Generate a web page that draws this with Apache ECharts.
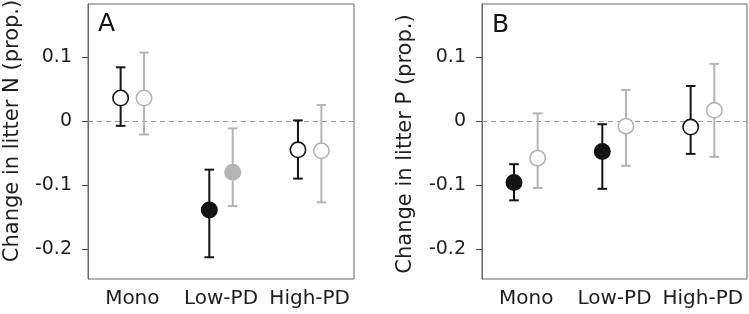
<!DOCTYPE html>
<html>
<head>
<meta charset="utf-8">
<script src="https://cdn.jsdelivr.net/npm/echarts@6/dist/echarts.min.js"></script>
<style>
html,body{margin:0;padding:0;background:#fff;}
#chart{width:749px;height:314px;}
</style>
</head>
<body>
<div id="chart"></div>
<script>
// ---- data ----
const categories = ['Mono', 'Low-PD', 'High-PD'];
const yTickValues = [-0.2, -0.1, 0, 0.1];

// Panel A: change in litter N
const nBlackMean = [0.036, -0.139, -0.045];
const nBlackLow  = [-0.0075, -0.213, -0.090];
const nBlackHigh = [0.084, -0.076, 0.001];
const nBlackFilled = [false, true, false];
const nGrayMean = [0.036, -0.080, -0.0465];
const nGrayLow  = [-0.021, -0.133, -0.127];
const nGrayHigh = [0.107, -0.0115, 0.025];
const nGrayFilled = [false, true, false];

// Panel B: change in litter P
const pBlackMean = [-0.096, -0.0475, -0.0094];
const pBlackLow  = [-0.124, -0.106, -0.0514];
const pBlackHigh = [-0.0675, -0.005, 0.0548];
const pBlackFilled = [true, true, false];
const pGrayMean = [-0.058, -0.008, 0.0168];
const pGrayLow  = [-0.1047, -0.070, -0.056];
const pGrayHigh = [0.012, 0.0486, 0.0893];
const pGrayFilled = [false, false, false];

// ---- styling ----
const BLACK = '#141414';
const GRAY = '#b4b4b4';
const FONT = 'DejaVu Sans';

function rows(mean, low, high) {
  return categories.map((c, i) => [i, mean[i], low[i], high[i]]);
}

function makeRender(offsetFrac, color, filledArr) {
  return function (params, api) {
    const i = api.value(0);
    const c = api.coord([i, api.value(1)]);
    const lo = api.coord([i, api.value(2)]);
    const hi = api.coord([i, api.value(3)]);
    const bw = api.size([1, 0])[0];
    const x = c[0] + offsetFrac * bw;
    const cap = 4.8;
    const ls = { stroke: color, lineWidth: 2 };
    const filled = filledArr[params.dataIndex];
    return {
      type: 'group',
      children: [
        { type: 'line', shape: { x1: x, y1: hi[1], x2: x, y2: lo[1] }, style: ls },
        { type: 'line', shape: { x1: x - cap, y1: hi[1], x2: x + cap, y2: hi[1] }, style: ls },
        { type: 'line', shape: { x1: x - cap, y1: lo[1], x2: x + cap, y2: lo[1] }, style: ls },
        { type: 'circle', shape: { cx: x, cy: c[1], r: 7.7 },
          style: { fill: filled ? color : '#fff', stroke: color, lineWidth: 1.6 } }
      ]
    };
  };
}

function errSeries(gi, offsetFrac, color, mean, low, high, filled) {
  return {
    type: 'custom',
    xAxisIndex: gi, yAxisIndex: gi,
    z: 5,
    clip: false,
    renderItem: makeRender(offsetFrac, color, filled),
    encode: { x: 0, y: [1, 2, 3] },
    data: rows(mean, low, high)
  };
}

function zeroLine(gi) {
  return {
    type: 'scatter', xAxisIndex: gi, yAxisIndex: gi, z: 1, data: [],
    markLine: {
      silent: true, symbol: 'none', label: { show: false },
      lineStyle: { color: '#9a9a9a', type: [5, 4], width: 1 },
      data: [{ yAxis: 0 }]
    }
  };
}

const grids = [
  { left: 88, top: 4, width: 266, height: 275 },
  { left: 482, top: 4, width: 265, height: 275 }
];

function xAxisDef(gi) {
  return {
    type: 'category', gridIndex: gi, data: categories,
    axisLine: { show: false }, axisTick: { show: false },
    axisLabel: { interval: 0, margin: 10, fontSize: 20, color: '#1e1e1e', fontFamily: FONT }
  };
}
function yAxisDef(gi) {
  return {
    type: 'value', gridIndex: gi, min: -0.247, max: 0.183,
    splitLine: { show: false },
    axisLine: { show: true, lineStyle: { color: '#666', width: 1 } },
    axisTick: { show: true, length: 6, lineStyle: { color: '#444' }, customValues: yTickValues },
    axisLabel: { margin: 16, fontSize: 19, color: '#1e1e1e', fontFamily: FONT,
      customValues: yTickValues,
      formatter: v => (Math.abs(v) < 1e-9 ? '0' : String(Math.round(v * 10) / 10)) }
  };
}

const chart = echarts.init(document.getElementById('chart'), null, { renderer: 'canvas' });
chart.setOption({
  animation: false,
  backgroundColor: '#fff',
  grid: grids.map(g => Object.assign({ show: true, borderColor: '#666', borderWidth: 1, backgroundColor: 'transparent' }, g)),
  xAxis: [xAxisDef(0), xAxisDef(1)],
  yAxis: [yAxisDef(0), yAxisDef(1)],
  series: [
    zeroLine(0), zeroLine(1),
    errSeries(0, -0.132, BLACK, nBlackMean, nBlackLow, nBlackHigh, nBlackFilled),
    errSeries(0, 0.132, GRAY, nGrayMean, nGrayLow, nGrayHigh, nGrayFilled),
    errSeries(1, -0.138, BLACK, pBlackMean, pBlackLow, pBlackHigh, pBlackFilled),
    errSeries(1, 0.13, GRAY, pGrayMean, pGrayLow, pGrayHigh, pGrayFilled)
  ],
  graphic: [
    { type: 'text', x: 13, y: 131, rotation: Math.PI / 2,
      style: { text: 'Change in litter N (prop.)', fontSize: 21, fontFamily: FONT, fill: '#1e1e1e',
        align: 'center', verticalAlign: 'middle', textAlign: 'center', textVerticalAlign: 'middle' } },
    { type: 'text', x: 406, y: 144, rotation: Math.PI / 2,
      style: { text: 'Change in litter P (prop.)', fontSize: 21, fontFamily: FONT, fill: '#1e1e1e',
        align: 'center', verticalAlign: 'middle', textAlign: 'center', textVerticalAlign: 'middle' } },
    { type: 'text', x: 98, y: 24,
      style: { text: 'A', fontSize: 25, fontFamily: FONT, fill: '#111',
        align: 'left', verticalAlign: 'middle', textAlign: 'left', textVerticalAlign: 'middle' } },
    { type: 'text', x: 492, y: 25,
      style: { text: 'B', fontSize: 25, fontFamily: FONT, fill: '#111',
        align: 'left', verticalAlign: 'middle', textAlign: 'left', textVerticalAlign: 'middle' } }
  ]
});
</script>
</body>
</html>
